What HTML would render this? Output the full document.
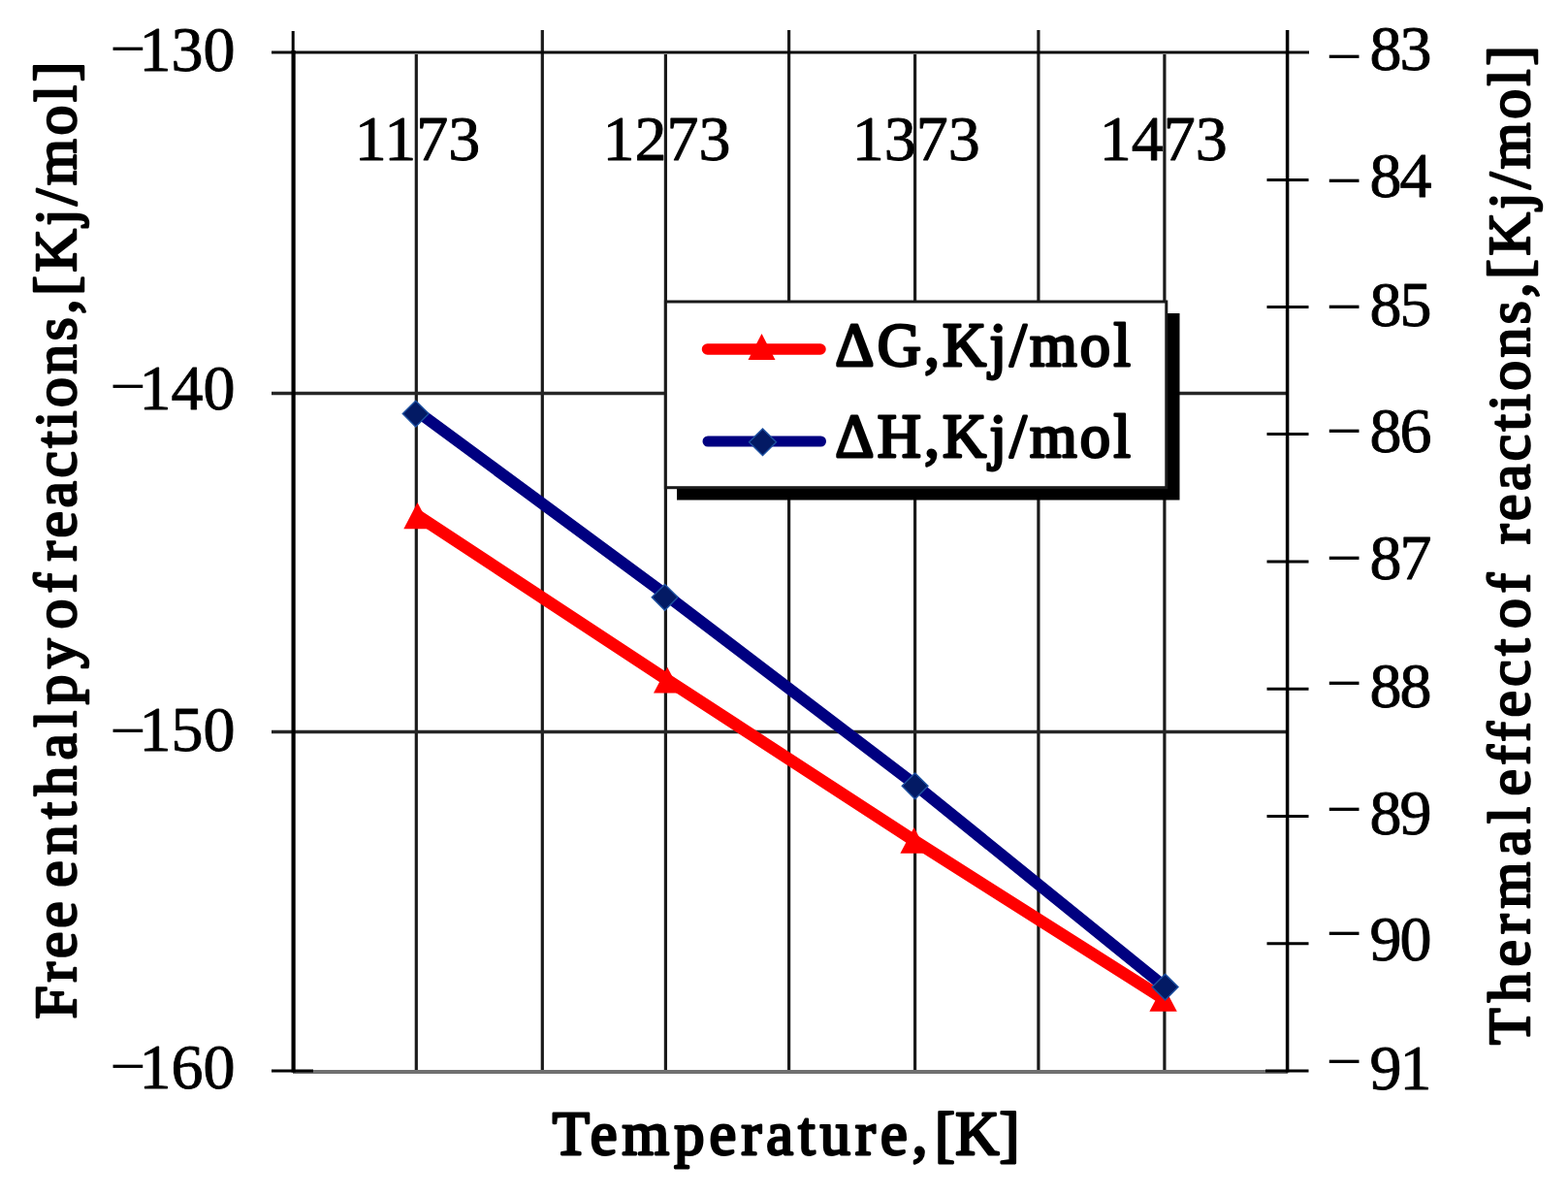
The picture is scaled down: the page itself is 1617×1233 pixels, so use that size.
<!DOCTYPE html>
<html>
<head>
<meta charset="utf-8">
<title>Chart</title>
<style>
html,body{margin:0;padding:0;background:#fff;}
body{width:1617px;height:1233px;overflow:hidden;}
svg{display:block;}
text{font-family:"Liberation Serif","Times New Roman",serif;fill:#000;stroke-linejoin:round;}
.tick{font-size:66px;}
.num{stroke:#000;stroke-width:0.9px;}
.ttl{font-size:62.5px;stroke:#000;stroke-width:2.8px;}
.ttv{font-size:61.5px;stroke:#000;stroke-width:2.5px;}
</style>
</head>
<body>
<svg width="1617" height="1233" viewBox="0 0 1617 1233">
<rect x="0" y="0" width="1617" height="1233" fill="#fff"/>

<!-- vertical gridlines -->
<g stroke="#1a1a1a" stroke-width="3.2">
<line x1="429.3" y1="56" x2="429.3" y2="1104"/>
<line x1="559.3" y1="31" x2="559.3" y2="1104"/>
<line x1="686.4" y1="56" x2="686.4" y2="1104"/>
<line x1="813.6" y1="31" x2="813.6" y2="1104"/>
<line x1="943.6" y1="56" x2="943.6" y2="1104"/>
<line x1="1070.9" y1="31" x2="1070.9" y2="1104"/>
<line x1="1200.9" y1="56" x2="1200.9" y2="1104"/>
</g>
<!-- horizontal gridlines -->
<g stroke="#262626" stroke-width="3.3">
<line x1="280" y1="405.5" x2="1327.5" y2="405.5"/>
<line x1="280" y1="754.5" x2="1327.5" y2="754.5"/>
</g>
<!-- bottom axis (grey) -->
<line x1="302" y1="1105" x2="1328" y2="1105" stroke="#707070" stroke-width="4"/>
<!-- top line -->
<line x1="280" y1="54" x2="1350" y2="54" stroke="#0a0a0a" stroke-width="3"/>
<!-- left axis -->
<line x1="302.2" y1="32" x2="302.2" y2="55" stroke="#000" stroke-width="3"/>
<line x1="302.6" y1="52" x2="302.6" y2="1105.5" stroke="#000" stroke-width="4.2"/>
<!-- right axis -->
<line x1="1327.6" y1="31" x2="1327.6" y2="1105.5" stroke="#000" stroke-width="3.5"/>
<!-- bottom black ticks -->
<g stroke="#000" stroke-width="3">
<line x1="280" y1="1104" x2="323" y2="1104"/>
<line x1="1305" y1="1104" x2="1349.5" y2="1104"/>
<!-- right axis ticks -->
<line x1="1306.5" y1="185.5" x2="1349.5" y2="185.5"/>
<line x1="1306.5" y1="316.5" x2="1349.5" y2="316.5"/>
<line x1="1306.5" y1="447.5" x2="1349.5" y2="447.5"/>
<line x1="1306.5" y1="579" x2="1349.5" y2="579"/>
<line x1="1306.5" y1="710.2" x2="1349.5" y2="710.2"/>
<line x1="1306.5" y1="841.5" x2="1349.5" y2="841.5"/>
<line x1="1306.5" y1="972.7" x2="1349.5" y2="972.7"/>
</g>

<!-- series: dG (red) -->
<polyline points="430.5,531.5 688.2,701 942.6,866.5 1199.6,1029.4" fill="none" stroke="#ff0000" stroke-width="12.5" stroke-linejoin="round"/>
<g fill="#ff0000">
<polygon points="430.5,518 444.7,545.2 416.3,545.2"/>
<polygon points="688.2,687.8 702.4,714.6 674.0,714.6"/>
<polygon points="942.6,853 956.8,879.8 928.4,879.8"/>
<polygon points="1199.6,1016 1213.8,1042.8 1185.4,1042.8"/>
</g>
<!-- series: dH (blue) -->
<polyline points="428.7,423 685.6,612.3 943.6,808.8 1201.6,1017.6" fill="none" stroke="#000080" stroke-width="12" stroke-linejoin="round"/>
<g fill="#031a64" stroke="#1d50a0" stroke-width="1.4">
<polygon points="428.7,413.2 442.1,426.6 428.7,440.0 415.3,426.6"/>
<polygon points="685.6,602.4 699.0,615.8 685.6,629.2 672.2,615.8"/>
<polygon points="943.6,796.9 957.0,810.3 943.6,823.7 930.2,810.3"/>
<polygon points="1201.6,1004.2 1215.0,1017.6 1201.6,1031.0 1188.2,1017.6"/>
</g>

<!-- legend -->
<rect x="698" y="323" width="518.5" height="192.5" fill="#000"/>
<rect x="686.4" y="311" width="516.4" height="191.7" fill="#fff" stroke="#1a1a1a" stroke-width="3"/>
<line x1="729.5" y1="360" x2="846" y2="360" stroke="#ff0000" stroke-width="11.5" stroke-linecap="round"/>
<polygon points="785.5,344 799.5,371 771.5,371" fill="#ff0000"/>
<line x1="730" y1="455" x2="846.5" y2="455" stroke="#000080" stroke-width="11" stroke-linecap="round"/>
<polygon points="786.5,442 800.5,455.8 786.5,469.6 772.5,455.8" fill="#031a64" stroke="#1d50a0" stroke-width="1.4"/>
<text class="ttl" x="861.2" y="377" textLength="304.6" lengthAdjust="spacing">ΔG,Kj/mol</text>
<text class="ttl" x="861.2" y="470.5" textLength="304.6" lengthAdjust="spacing">ΔH,Kj/mol</text>

<!-- top category labels -->
<g class="tick num" text-anchor="middle">
<text x="430.5" y="164.5">1173</text>
<text x="687.5" y="164.5">1273</text>
<text x="944.7" y="164.5">1373</text>
<text x="1199.8" y="164.5">1473</text>
</g>

<!-- left axis labels -->
<g class="tick num" text-anchor="end">
<text x="242.5" y="72.5">130</text>
<text x="242.5" y="421.5">140</text>
<text x="242.5" y="773.7">150</text>
<text x="242.5" y="1122.4">160</text>
</g>
<g class="tick">
<text x="113.3" y="72.2">−</text>
<text x="113.3" y="419.5">−</text>
<text x="113.3" y="774.7">−</text>
<text x="113.3" y="1120.6">−</text>
</g>

<!-- right axis labels -->
<g class="tick num">
<text letter-spacing="-2" x="1412.5" y="72.3">83</text>
<text letter-spacing="-2" x="1412.5" y="202.8">84</text>
<text letter-spacing="-2" x="1412.5" y="335.7">85</text>
<text letter-spacing="-2" x="1412.5" y="466.2">86</text>
<text letter-spacing="-2" x="1412.5" y="596.8">87</text>
<text letter-spacing="-2" x="1412.5" y="729.3">88</text>
<text letter-spacing="-2" x="1412.5" y="859.6">89</text>
<text letter-spacing="-2" x="1412.5" y="990.0">90</text>
<text letter-spacing="-2" x="1412.5" y="1122.8">91</text>
</g>
<g class="tick">
<text x="1367.5" y="79.9">−</text>
<text x="1367.5" y="207.8">−</text>
<text x="1367.5" y="338.0">−</text>
<text x="1367.5" y="466.0">−</text>
<text x="1367.5" y="596.9">−</text>
<text x="1367.5" y="725.5">−</text>
<text x="1367.5" y="855.7">−</text>
<text x="1367.5" y="983.8">−</text>
<text x="1367.5" y="1116.2">−</text>
</g>

<!-- axis titles -->
<g>
<text class="ttv" transform="translate(77.5,1050.6) rotate(-90)" textLength="121.2" lengthAdjust="spacing">Free</text>
<text class="ttv" transform="translate(77.5,914.8) rotate(-90)" textLength="256.4" lengthAdjust="spacing">enthalpy</text>
<text class="ttv" transform="translate(77.5,648.4) rotate(-90)" textLength="57.4" lengthAdjust="spacing">of</text>
<text class="ttv" transform="translate(77.5,578.6) rotate(-90)" textLength="514.8" lengthAdjust="spacing">reactions,[Kj/mol]</text>
</g>
<g>
<text class="ttv" transform="translate(1576.8,1077.0) rotate(-90)" textLength="245.0" lengthAdjust="spacing">Thermal</text>
<text class="ttv" transform="translate(1576.8,820.6) rotate(-90)" textLength="162.0" lengthAdjust="spacing">effect</text>
<text class="ttv" transform="translate(1576.8,648.0) rotate(-90)" textLength="57.0" lengthAdjust="spacing">of</text>
<text class="ttv" transform="translate(1576.8,561.0) rotate(-90)" textLength="513.8" lengthAdjust="spacing">reactions,[Kj/mol]</text>
</g>
<g>
<text class="ttl" x="569.8" y="1190" textLength="386.6" lengthAdjust="spacing">Temperature,</text>
<text class="ttl" x="964.0" y="1190" textLength="87.4" lengthAdjust="spacing">[K]</text>
</g>
</svg>
</body>
</html>
